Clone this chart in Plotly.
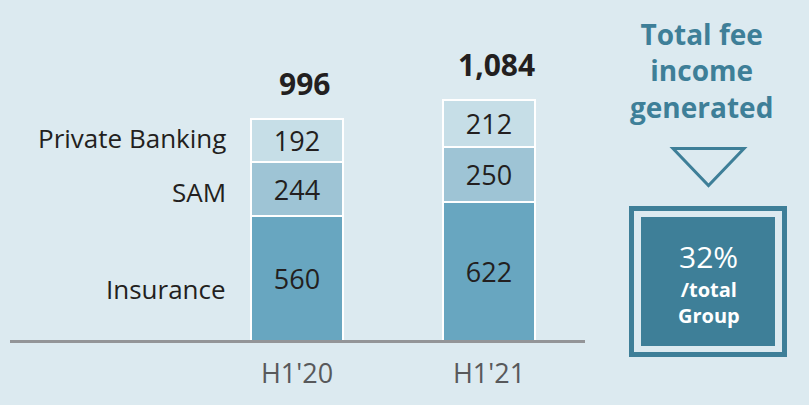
import plotly.graph_objects as go

W, H = 809, 405
periods = ["H1'20", "H1'21"]
series_names = ["Insurance", "SAM", "Private Banking"]
insurance = [560, 622]
sam = [244, 250]
private_banking = [192, 212]
totals_labels = ["996", "1,084"]
side_title = "Total fee<br>income<br>generated"
side_value = "32%"
side_sub = "/total<br>Group"

colors = ["#68A6C0", "#9EC4D5", "#C6DEE7"]
BG = "#DCEAF0"
TEAL = "#3E7F98"
FONT = "Open Sans"
DARK = "#231F20"

def px(x):
    return x / W

def py(y):
    return (H - y) / H

fig = go.Figure()
for name, vals, col in zip(series_names, [insurance, sam, private_banking], colors):
    fig.add_bar(
        x=periods, y=vals, name=name,
        marker=dict(color=col, line=dict(color="white", width=2)),
        text=[str(v) for v in vals], textposition="inside",
        insidetextanchor="middle", constraintext="none",
        textfont=dict(family=FONT, size=27, color=DARK),
        width=0.475, hoverinfo="skip",
    )

totals = [a + b + c for a, b, c in zip(insurance, sam, private_banking)]
ann = []
for i, (t, lab) in enumerate(zip(totals, totals_labels)):
    ann.append(dict(x=periods[i], y=t, xref="x", yref="y", text="<b>%s</b>" % lab,
                    showarrow=False, yanchor="bottom", yshift=13, xshift=7,
                    font=dict(family=FONT, size=30, color=DARK)))

# series labels next to the first bar
cum = 0
shifts = [-10, -3, 3]
for name, vals, s in zip(series_names, [insurance, sam, private_banking], shifts):
    mid = cum + vals[0] / 2
    cum += vals[0]
    ann.append(dict(x=-0.36, y=mid, xref="x", yref="y", text=name, showarrow=False,
                    xanchor="right", yanchor="middle", yshift=s,
                    font=dict(family=FONT, size=26, color=DARK)))

ann.append(dict(x=px(701), y=py(71), xref="paper", yref="paper", text="<b>%s</b>" % side_title,
                showarrow=False, xanchor="center", yanchor="middle",
                font=dict(family=FONT, size=28, color=TEAL)))
ann.append(dict(x=px(708), y=py(256), xref="paper", yref="paper", text=side_value,
                showarrow=False, xanchor="center", yanchor="middle",
                font=dict(family=FONT, size=30, color="white")))
ann.append(dict(x=px(709), y=py(302), xref="paper", yref="paper", text="<b>%s</b>" % side_sub,
                showarrow=False, xanchor="center", yanchor="middle",
                font=dict(family=FONT, size=20, color="white")))

shapes = [
    dict(type="line", xref="paper", yref="paper", x0=px(10), x1=px(585), y0=py(341.5), y1=py(341.5),
         line=dict(color="#939598", width=3), layer="above"),
    dict(type="path", xref="paper", yref="paper",
         path="M %f,%f L %f,%f L %f,%f Z" % (px(673), py(148.5), px(744), py(148.5), px(708.5), py(185.5)),
         line=dict(color=TEAL, width=3), fillcolor="rgba(0,0,0,0)"),
    dict(type="rect", xref="paper", yref="paper", x0=px(631.5), x1=px(784.5), y0=py(208.5), y1=py(354.5),
         line=dict(color=TEAL, width=5), fillcolor="rgba(0,0,0,0)"),
    dict(type="rect", xref="paper", yref="paper", x0=px(641), x1=px(775), y0=py(217), y1=py(346),
         line=dict(width=0), fillcolor=TEAL),
]

ymax = 341 * 4.49
fig.update_layout(
    width=W, height=H, barmode="stack", showlegend=False,
    paper_bgcolor=BG, plot_bgcolor=BG,
    margin=dict(l=0, r=0, t=0, b=0),
    annotations=ann, shapes=shapes,
    xaxis=dict(range=[-297 / 192, (W - 297) / 192], showgrid=False, zeroline=False, showline=False,
               ticks="outside", ticklen=9, tickcolor="rgba(0,0,0,0)",
               tickfont=dict(family=FONT, size=27, color="#58595B"), fixedrange=True),
    yaxis=dict(domain=[(H - 341) / H, 1], range=[0, ymax], visible=False, fixedrange=True),
)
fig.write_html("out.html")
